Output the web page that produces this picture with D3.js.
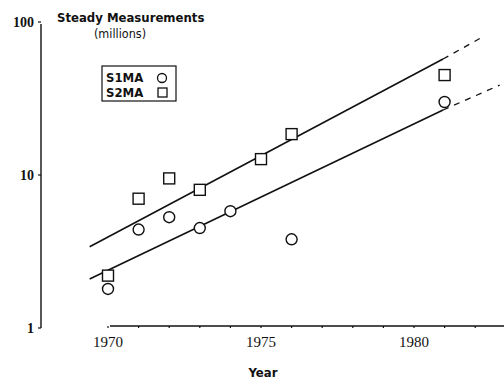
<!DOCTYPE html>
<html>
<head>
<meta charset="utf-8">
<script src="https://cdn.jsdelivr.net/npm/d3@7"></script>
<style>
  html, body { margin: 0; padding: 0; background: #fff; }
  svg { display: block; }
</style>
</head>
<body>
<svg id="chart" width="504" height="388"></svg>
<script>
// ---- Data ----
const s1Years  = [1970, 1971, 1972, 1973, 1974, 1976, 1981];
const s1Values = [1.8, 4.4, 5.3, 4.5, 5.8, 3.8, 30];
const s2Years  = [1970, 1971, 1972, 1973, 1975, 1976, 1981];
const s2Values = [2.2, 7.0, 9.5, 8.0, 12.7, 18.5, 45];
// fitted trend lines (solid part and dashed extrapolation), as [year, value]
const s1Fit    = [[1969.4, 2.09], [1980.95, 26.6]];
const s1Ext    = [[1980.95, 26.6], [1982.8, 38.7]];
const s2Fit    = [[1969.4, 3.4], [1980.95, 57.3]];
const s2Ext    = [[1980.95, 57.3], [1982.25, 80]];
const xTickYears  = [1970, 1975, 1980];
const xMinorYears = [1970, 1971, 1972, 1973, 1974, 1975, 1976, 1977, 1978, 1979, 1980, 1981, 1982, 1983];
const yTickValues = [1, 10, 100];
const seriesNames = ["S1MA", "S2MA"];

// ---- Scales ----
const svg = d3.select("#chart");
const x = d3.scaleLinear().domain([1970, 1980]).range([108, 414]);
const y = d3.scaleLog().domain([1, 100]).range([328, 22]);
const ink = "#111";

// ---- Y axis ----
const yAxisX = 41;
svg.append("line").attr("x1", yAxisX).attr("x2", yAxisX)
  .attr("y1", y(100) + 2).attr("y2", y(1))
  .attr("stroke", ink).attr("stroke-width", 1.4);
svg.selectAll(".ytick").data(yTickValues).enter().append("line")
  .attr("x1", yAxisX - 3).attr("x2", yAxisX)
  .attr("y1", d => y(d)).attr("y2", d => y(d))
  .attr("stroke", ink).attr("stroke-width", 1.2);
svg.selectAll(".ylab").data(yTickValues).enter().append("text")
  .attr("x", yAxisX - 7).attr("y", d => y(d) + 5)
  .attr("text-anchor", "end")
  .attr("font-family", "Liberation Serif")
  .attr("font-size", 14).attr("font-weight", "bold")
  .attr("fill", ink)
  .text(d => d);

// ---- X axis ----
const xAxisY = 326;
svg.append("line").attr("x1", x(1970) + 2).attr("x2", 504)
  .attr("y1", xAxisY).attr("y2", xAxisY)
  .attr("stroke", ink).attr("stroke-width", 1.3);
svg.selectAll(".xminor").data(xMinorYears).enter().append("line")
  .attr("x1", d => x(d)).attr("x2", d => x(d))
  .attr("y1", xAxisY).attr("y2", xAxisY + 2)
  .attr("stroke", ink).attr("stroke-width", 1.2);
svg.selectAll(".xlab").data(xTickYears).enter().append("text")
  .attr("x", d => x(d)).attr("y", 347)
  .attr("text-anchor", "middle")
  .attr("font-family", "Liberation Serif")
  .attr("font-size", 15)
  .attr("fill", ink)
  .text(d => d);
svg.append("text").attr("x", 263).attr("y", 377)
  .attr("text-anchor", "middle")
  .attr("font-family", "DejaVu Sans Condensed")
  .attr("font-size", 13).attr("font-weight", "bold")
  .attr("fill", ink).text("Year");

// ---- Title ----
svg.append("text").attr("x", 57).attr("y", 22)
  .attr("font-family", "DejaVu Sans Condensed")
  .attr("font-size", 13).attr("font-weight", "bold")
  .attr("fill", ink).text("Steady Measurements");
svg.append("text").attr("x", 120).attr("y", 38)
  .attr("text-anchor", "middle")
  .attr("font-family", "DejaVu Sans Condensed")
  .attr("font-size", 12.5)
  .attr("fill", ink).text("(millions)");

// ---- Trend lines ----
const line = d3.line().x(d => x(d[0])).y(d => y(d[1]));
[s1Fit, s2Fit].forEach(f => {
  svg.append("path").attr("d", line(f)).attr("fill", "none")
    .attr("stroke", ink).attr("stroke-width", 1.6);
});
[s1Ext, s2Ext].forEach(f => {
  svg.append("path").attr("d", line(f)).attr("fill", "none")
    .attr("stroke", ink).attr("stroke-width", 1.3)
    .attr("stroke-dasharray", "6,6");
});

// ---- Points ----
const s1 = s1Years.map((yr, i) => ({year: yr, value: s1Values[i]}));
const s2 = s2Years.map((yr, i) => ({year: yr, value: s2Values[i]}));
svg.selectAll(".s1").data(s1).enter().append("circle")
  .attr("cx", d => x(d.year)).attr("cy", d => y(d.value)).attr("r", 5.5)
  .attr("fill", "#fff").attr("stroke", ink).attr("stroke-width", 1.4);
const sq = 11;
svg.selectAll(".s2").data(s2).enter().append("rect")
  .attr("x", d => x(d.year) - sq / 2).attr("y", d => y(d.value) - sq / 2)
  .attr("width", sq).attr("height", sq)
  .attr("fill", "#fff").attr("stroke", ink).attr("stroke-width", 1.4);

// ---- Legend ----
const lg = svg.append("g");
lg.append("rect").attr("x", 102).attr("y", 66).attr("width", 74).attr("height", 35)
  .attr("fill", "none").attr("stroke", ink).attr("stroke-width", 1.2);
seriesNames.forEach((name, i) => {
  lg.append("text").attr("x", 106).attr("y", 82 + i * 15)
    .attr("font-family", "DejaVu Sans Condensed")
    .attr("font-size", 13).attr("font-weight", "bold")
    .attr("fill", ink).text(name);
});
lg.append("circle").attr("cx", 162).attr("cy", 78).attr("r", 4.5)
  .attr("fill", "#fff").attr("stroke", ink).attr("stroke-width", 1.3);
lg.append("rect").attr("x", 158).attr("y", 88).attr("width", 9).attr("height", 9)
  .attr("fill", "#fff").attr("stroke", ink).attr("stroke-width", 1.3);
</script>
</body>
</html>
